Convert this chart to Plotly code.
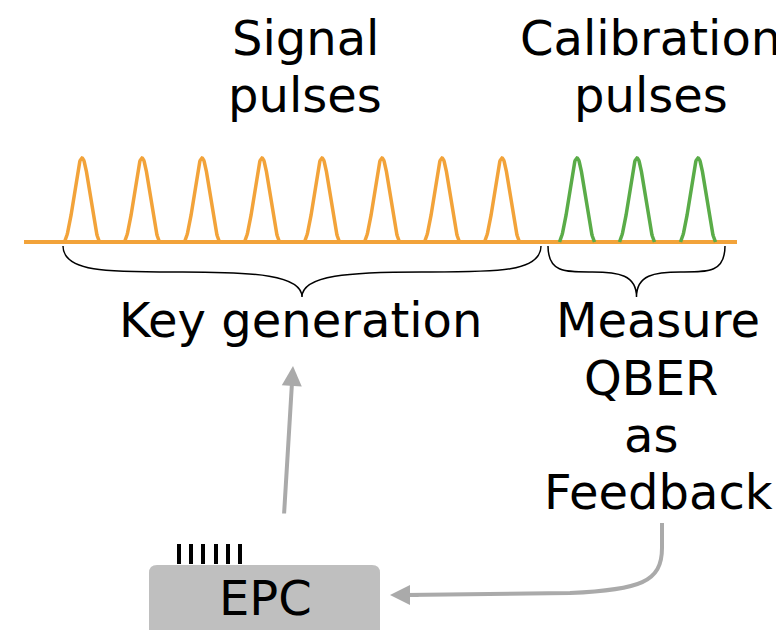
import numpy as np
import plotly.graph_objects as go

# ---- data ----
signal_centers = [82, 142, 202, 262, 322, 382, 442, 502]
calib_centers = [577, 637, 698]
pulse_height = 84          # px from baseline to peak
baseline_y = 242
baseline_x = [24, 737]

labels = [
    ("Signal", 305, 38), ("pulses", 305, 95),
    ("Calibration", 650, 38), ("pulses", 651, 95),
    ("Key generation", 300, 320),
    ("Measure", 658, 320), ("QBER", 651, 378), ("as", 651, 435), ("Feedback", 658, 492),
]
epc_label = "EPC"
epc_ticks_x = [179, 191, 203, 216, 228, 240]

ORANGE = "#f2a33a"
GREEN = "#5aac48"
GRAY = "#aaaaaa"
FS = 48
OFF = 8  # page body margin

fig = go.Figure()

# baseline
fig.add_trace(go.Scatter(x=baseline_x, y=[baseline_y, baseline_y], mode="lines",
                         line=dict(color=ORANGE, width=4), hoverinfo="skip"))

def pulses(centers):
    xs, ys = [], []
    u = np.linspace(-17.5, 17.5, 81)
    for c in centers:
        shape = np.exp(-u**2 / (2 * 7.8**2))
        shape = (shape - shape[0]) / (1 - shape[0])
        xs += list(c + u) + [None]
        ys += list(baseline_y - pulse_height * shape) + [None]
    return xs, ys

for centers, col in [(signal_centers, ORANGE), (calib_centers, GREEN)]:
    xs, ys = pulses(centers)
    fig.add_trace(go.Scatter(x=xs, y=ys, mode="lines", line=dict(color=col, width=3.5),
                             hoverinfo="skip"))

# braces
def brace(x1, x2, y0, yh, y1):
    xm = (x1 + x2) / 2
    q = xm - x1
    p = (f"M {x1},{y0} C {x1},{yh+1} {x1+0.2*q},{yh} {x1+0.5*q},{yh} "
         f"C {x1+0.8*q},{yh} {xm},{yh+3} {xm},{y1} "
         f"M {x2},{y0} C {x2},{yh+1} {x2-0.2*q},{yh} {x2-0.5*q},{yh} "
         f"C {x2-0.8*q},{yh} {xm},{yh+3} {xm},{y1}")
    return dict(type="path", path=p, xref="x", yref="y", line=dict(color="black", width=1.5))

shapes = [brace(63, 541, 246, 272, 297), brace(548, 725, 246, 272, 297)]

# EPC box (rounded)
x0, x1, y0, y1, r = 149, 380, 565, 645, 8
shapes.append(dict(type="path", xref="x", yref="y",
                   path=(f"M {x0+r},{y0} L {x1-r},{y0} Q {x1},{y0} {x1},{y0+r} L {x1},{y1} "
                         f"L {x0},{y1} L {x0},{y0+r} Q {x0},{y0} {x0+r},{y0} Z"),
                   fillcolor="#bfbfbf", line=dict(width=0)))
for tx in epc_ticks_x:
    shapes.append(dict(type="line", xref="x", yref="y", x0=tx, x1=tx, y0=544, y1=564,
                       line=dict(color="black", width=4)))

# feedback curve
shapes.append(dict(type="path", xref="x", yref="y",
                   path="M 662,523 L 662,548 C 662,582 640,590 570,593 L 405,595",
                   line=dict(color=GRAY, width=4)))

fig.update_layout(shapes=shapes)

annotations = []
for t, x, y in labels:
    annotations.append(dict(x=x, y=y, text=t, showarrow=False, xref="x", yref="y",
                            xanchor="center", yanchor="middle",
                            font=dict(family="DejaVu Sans", size=FS, color="black")))
annotations.append(dict(x=265, y=598, text=epc_label, showarrow=False, xref="x", yref="y",
                        xanchor="center", yanchor="middle",
                        font=dict(family="DejaVu Sans", size=FS, color="black")))
# arrows
annotations.append(dict(x=293, y=366, ax=284, ay=515, xref="x", yref="y", axref="x", ayref="y",
                        text="", showarrow=True, arrowhead=2, arrowsize=1, arrowwidth=4,
                        arrowcolor=GRAY))
annotations.append(dict(x=390, y=595, ax=420, ay=595, xref="x", yref="y", axref="x", ayref="y",
                        text="", showarrow=True, arrowhead=2, arrowsize=1, arrowwidth=4,
                        arrowcolor=GRAY))
fig.update_layout(annotations=annotations)

fig.update_layout(
    width=784 - OFF, height=630 - OFF, margin=dict(l=0, r=0, t=0, b=0),
    paper_bgcolor="white", plot_bgcolor="white", showlegend=False,
    xaxis=dict(range=[OFF, 784], visible=False, fixedrange=True),
    yaxis=dict(range=[630, OFF], visible=False, fixedrange=True),
)
fig.write_html("out.html")
